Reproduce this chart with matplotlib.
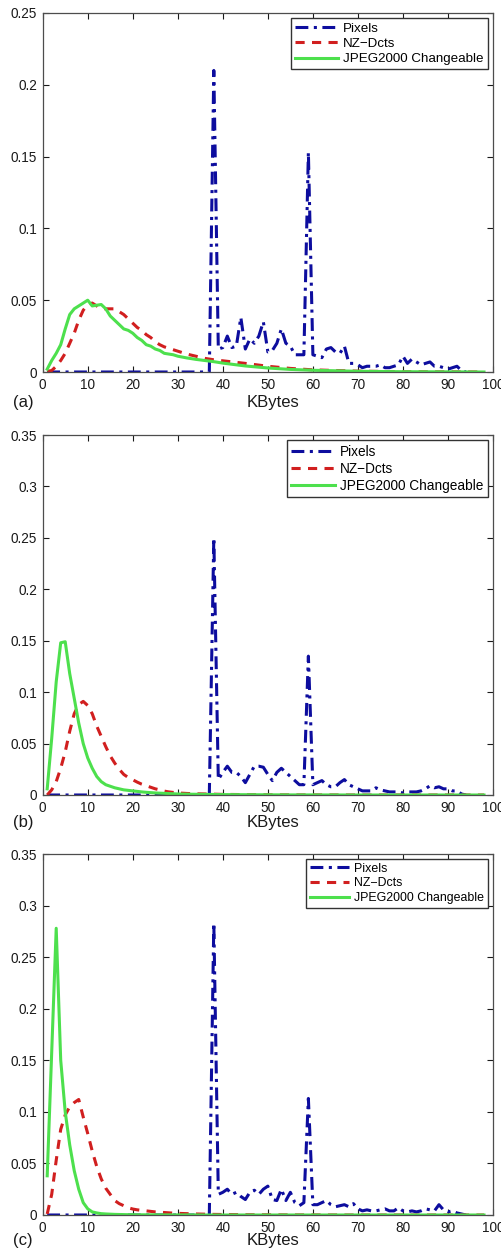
import numpy as np
import matplotlib.pyplot as plt

plt.rcParams['font.family'] = ['Liberation Sans', 'DejaVu Sans']

# ============ #
# Dados (KB)   #
# ============ #

# eixo x das curvas NZ-Dcts / JPEG2000
kb_curve = list(range(1, 31)) + [32, 34, 36, 38, 40, 45, 50, 55, 60, 70, 80, 90, 98]
# eixo x da curva Pixels
kb_pix = [1] + list(range(37, 95))

pix_a = [0.0,
         0.0, 0.21, 0.016, 0.017, 0.025, 0.017, 0.018, 0.038, 0.016, 0.023,
         0.020, 0.025, 0.035, 0.014, 0.015, 0.020, 0.030, 0.020, 0.018, 0.012,
         0.012, 0.012, 0.153, 0.012, 0.011, 0.010, 0.016, 0.017, 0.014, 0.013,
         0.018, 0.006, 0.006, 0.005, 0.003, 0.004, 0.004, 0.004, 0.005, 0.003,
         0.003, 0.004, 0.005, 0.011, 0.006, 0.009, 0.007, 0.005, 0.006, 0.007,
         0.004, 0.004, 0.003, 0.002, 0.003, 0.004, 0.001, 0.0]
nz_a = [0.0005, 0.001, 0.004, 0.008, 0.013, 0.020, 0.027, 0.036, 0.043, 0.047,
        0.048, 0.046, 0.044, 0.044, 0.044, 0.044, 0.042, 0.040, 0.037, 0.034,
        0.031, 0.029, 0.026, 0.024, 0.021, 0.019, 0.0175, 0.0165, 0.0155, 0.0145,
        0.0125, 0.011, 0.0095, 0.0085, 0.0078, 0.006, 0.004, 0.0025, 0.0015, 0.0006,
        0.0002, 0.0001, 0.0]
jp_a = [0.002, 0.008, 0.013, 0.019, 0.030, 0.040, 0.044, 0.046, 0.048, 0.050,
        0.046, 0.0465, 0.047, 0.044, 0.039, 0.036, 0.033, 0.030, 0.029, 0.027,
        0.024, 0.022, 0.019, 0.018, 0.016, 0.015, 0.013, 0.0125, 0.012, 0.011,
        0.0098, 0.0088, 0.008, 0.0072, 0.0062, 0.0042, 0.0028, 0.0018, 0.0012, 0.0005,
        0.0002, 0.0001, 0.0]

pix_b = [0.0,
         0.0, 0.25, 0.015, 0.022, 0.028, 0.022, 0.022, 0.018, 0.012, 0.020,
         0.028, 0.028, 0.027, 0.020, 0.014, 0.022, 0.026, 0.022, 0.018, 0.014,
         0.010, 0.010, 0.135, 0.010, 0.012, 0.014, 0.010, 0.008, 0.008, 0.012,
         0.015, 0.010, 0.008, 0.006, 0.004, 0.004, 0.004, 0.007, 0.005, 0.004,
         0.003, 0.003, 0.003, 0.002, 0.003, 0.003, 0.003, 0.004, 0.006, 0.009,
         0.007, 0.008, 0.006, 0.006, 0.004, 0.004, 0.001, 0.0]
nz_b = [0.0, 0.005, 0.013, 0.026, 0.042, 0.062, 0.079, 0.088, 0.091, 0.087,
        0.079, 0.067, 0.057, 0.047, 0.038, 0.031, 0.025, 0.020, 0.017, 0.0148,
        0.0125, 0.0105, 0.009, 0.0075, 0.006, 0.005, 0.0038, 0.003, 0.0025, 0.002,
        0.0015, 0.0012, 0.001, 0.0008, 0.0006, 0.0004, 0.0002, 0.0001, 0.0001, 0.0,
        0.0, 0.0, 0.0]
jp_b = [0.006, 0.055, 0.110, 0.148, 0.149, 0.118, 0.094, 0.070, 0.050, 0.036,
        0.026, 0.018, 0.013, 0.010, 0.0085, 0.007, 0.006, 0.005, 0.0045, 0.004,
        0.0035, 0.003, 0.0026, 0.0023, 0.002, 0.0018, 0.0016, 0.0014, 0.0012, 0.001,
        0.0008, 0.0007, 0.0006, 0.0005, 0.0004, 0.0003, 0.0002, 0.0001, 0.0001, 0.0,
        0.0, 0.0, 0.0]

pix_c = [0.0,
         0.0, 0.283, 0.020, 0.022, 0.025, 0.020, 0.022, 0.018, 0.015, 0.022,
         0.024, 0.020, 0.025, 0.028, 0.015, 0.014, 0.025, 0.014, 0.022, 0.012,
         0.009, 0.012, 0.113, 0.010, 0.010, 0.012, 0.014, 0.010, 0.008, 0.009,
         0.010, 0.008, 0.011, 0.006, 0.004, 0.005, 0.004, 0.004, 0.005, 0.006,
         0.004, 0.004, 0.007, 0.004, 0.003, 0.004, 0.003, 0.004, 0.006, 0.005,
         0.004, 0.010, 0.005, 0.003, 0.004, 0.002, 0.001, 0.0]
nz_c = [0.001, 0.020, 0.053, 0.083, 0.097, 0.105, 0.109, 0.112, 0.095, 0.079,
        0.062, 0.047, 0.035, 0.026, 0.020, 0.014, 0.011, 0.009, 0.007, 0.0058,
        0.005, 0.0045, 0.004, 0.0035, 0.003, 0.0027, 0.0024, 0.0021, 0.0018, 0.0016,
        0.0013, 0.001, 0.0008, 0.0006, 0.0005, 0.0003, 0.0002, 0.0001, 0.0001, 0.0,
        0.0, 0.0, 0.0]
jp_c = [0.038, 0.158, 0.278, 0.150, 0.100, 0.068, 0.043, 0.025, 0.012, 0.006,
        0.003, 0.002, 0.0013, 0.001, 0.0008, 0.0006, 0.0005, 0.0004, 0.0003, 0.0003,
        0.0002, 0.0002, 0.0002, 0.0002, 0.0002, 0.0001, 0.0001, 0.0001, 0.0001, 0.0001,
        0.0001, 0.0001, 0.0, 0.0, 0.0, 0.0, 0.0, 0.0, 0.0, 0.0,
        0.0, 0.0, 0.0]

labels = ['Pixels', 'NZ\u2212Dcts', 'JPEG2000 Changeable']
panel_tags = ['(a)', '(b)', '(c)']
y_tops = [0.25, 0.35, 0.35]
y_tick_labels = [['0', '0.05', '0.1', '0.15', '0.2', '0.25'],
                 ['0', '0.05', '0.1', '0.15', '0.2', '0.25', '0.3', '0.35'],
                 ['0', '0.05', '0.1', '0.15', '0.2', '0.25', '0.3', '0.35']]
x_ticks = list(range(0, 101, 10))

# ===== #
# Plot  #
# ===== #

W, H = 502, 1250
fig = plt.figure(figsize=(W / 100, H / 100), dpi=100)

# caixas em pixels: (esq, topo, dir, base)
boxes = [(42.7, 13, 493, 372), (42.7, 435, 493, 795), (42.7, 854, 493, 1215)]
label_y = [402, 822, 1241]
leg_fs = [9.6, 9.8, 8.9]

c_pix = (0.05, 0.05, 0.62)
c_nz = (0.82, 0.12, 0.12)
c_jp = (0.30, 0.88, 0.30)

series = [(pix_a, nz_a, jp_a), (pix_b, nz_b, jp_b), (pix_c, nz_c, jp_c)]

for i, (pix, nz, jp) in enumerate(series):
    l, t, r, b = boxes[i]
    ax = fig.add_axes([l / W, 1 - b / H, (r - l) / W, (b - t) / H])

    ax.plot(kb_pix, pix, color=c_pix, lw=2.2, dashes=(4.2, 1.8, 1, 1.8), label=labels[0])
    ax.plot(kb_curve, nz, color=c_nz, lw=2.2, dashes=(3.0, 2.4), label=labels[1])
    ax.plot(kb_curve, jp, color=c_jp, lw=2.2, label=labels[2])

    ax.set_xlim(0, 100)
    ax.set_ylim(0, y_tops[i])
    ax.set_xticks(x_ticks)
    ax.set_xticklabels([str(v) for v in x_ticks])
    yt = np.linspace(0, y_tops[i], len(y_tick_labels[i]))
    ax.set_yticks(yt)
    ax.set_yticklabels(y_tick_labels[i])
    ax.tick_params(direction='in', top=True, right=True, length=4, width=0.8,
                   labelsize=9.8, pad=4, colors='0.1')
    for s in ax.spines.values():
        s.set_color('0.3')
        s.set_linewidth(0.9)

    leg = ax.legend(loc='upper right', fontsize=leg_fs[i], fancybox=False,
                    framealpha=1, edgecolor='0.2', handlelength=3.2,
                    labelspacing=0.22, borderpad=0.3, handletextpad=0.4,
                    borderaxespad=0.4)
    leg.get_frame().set_linewidth(1.0)

    fig.text(273 / W, 1 - label_y[i] / H, 'KBytes', ha='center', va='center',
             fontsize=12, color='0.1')
    fig.text(13 / W, 1 - label_y[i] / H, panel_tags[i], ha='left', va='center',
             fontsize=12, color='0.1')

fig.savefig('out.png', dpi=100)
